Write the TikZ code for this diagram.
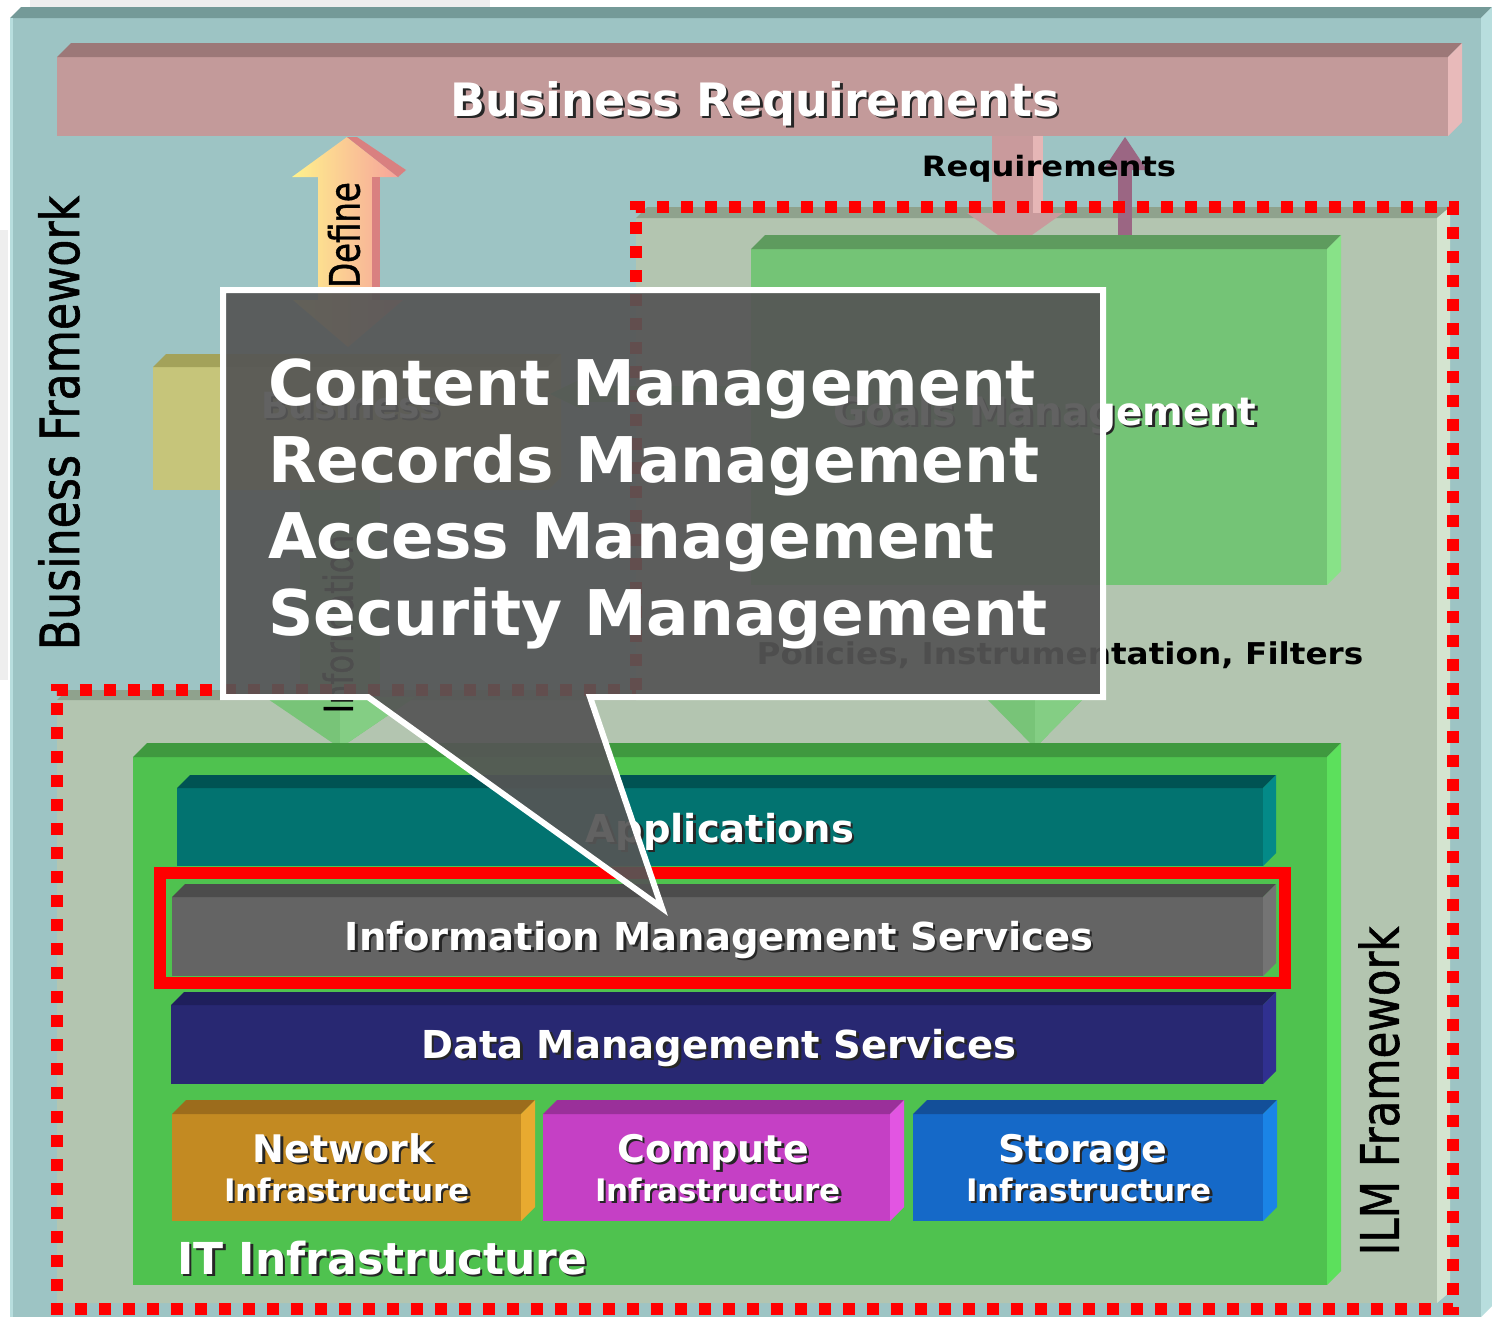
\documentclass[tikz,border=0pt]{standalone}
\usepackage{fontspec}
\setmainfont{DejaVu Sans}
\newfontfamily\heavysans{DejaVu Sans}[FakeBold=1.2]
\usepackage{graphicx}
\usetikzlibrary{calc}

\definecolor{tealbg}{HTML}{9DC4C4}
\definecolor{tealtop}{HTML}{749A98}
\definecolor{tealedge}{HTML}{B8DEDE}
\definecolor{brfront}{HTML}{C39A9A}
\definecolor{brtop}{HTML}{9C7878}
\definecolor{brside}{HTML}{E8BABA}
\definecolor{ilmfill}{HTML}{B3C5B0}
\definecolor{ilmtop}{HTML}{8FA28D}
\definecolor{ilmside}{HTML}{D4E4D0}
\definecolor{goalfront}{HTML}{74C476}
\definecolor{goaltop}{HTML}{5E9B5E}
\definecolor{goalside}{HTML}{88E288}
\definecolor{itfront}{HTML}{4FC24F}
\definecolor{ittop}{HTML}{3F993F}
\definecolor{itside}{HTML}{5CE05C}
\definecolor{appfront}{HTML}{027370}
\definecolor{apptop}{HTML}{005353}
\definecolor{appside}{HTML}{038A88}
\definecolor{imsfront}{HTML}{646464}
\definecolor{imstop}{HTML}{4C4C4C}
\definecolor{imsside}{HTML}{747474}
\definecolor{dmsfront}{HTML}{282872}
\definecolor{dmstop}{HTML}{1F1F5C}
\definecolor{dmsside}{HTML}{303090}
\definecolor{netfront}{HTML}{C38A22}
\definecolor{nettop}{HTML}{9C6C1C}
\definecolor{netside}{HTML}{E8AA30}
\definecolor{cmpfront}{HTML}{C540C5}
\definecolor{cmptop}{HTML}{9A309A}
\definecolor{cmpside}{HTML}{E255E2}
\definecolor{stofront}{HTML}{1569C8}
\definecolor{stotop}{HTML}{134F99}
\definecolor{stoside}{HTML}{1A84E6}
\definecolor{yelfront}{HTML}{C6C57A}
\definecolor{yeltop}{HTML}{A3A25A}
\definecolor{arrowgreen}{HTML}{78C478}
\definecolor{arrowgreenlt}{HTML}{84CE84}
\definecolor{reqpink}{HTML}{C99A9C}
\definecolor{reqpinklt}{HTML}{E6B6B6}
\definecolor{reqpurple}{HTML}{9B6683}
\definecolor{defyellow}{HTML}{FFF28C}
\definecolor{defpink}{HTML}{F6A09C}
\definecolor{defside}{HTML}{D98080}
\definecolor{calloutgray}{HTML}{555555}
\definecolor{paleback}{HTML}{EEEEEE}

% white lettering with a dark drop shadow
\newcommand\sdtext[2][2.5]{\makebox[0pt][l]{\hspace*{#1pt}\raisebox{-#1pt}{\color{black!85}#2}}#2}

% a bevelled slab: name, x1, y1, x2, y2, depth, front, top, side
\newcommand\slab[9]{%
  \node[inner sep=0pt, outer sep=0pt, fill=#7, minimum width={(#4-#2)*1pt},
        minimum height={(#5-#3)*1pt}, anchor=north west] (#1) at (#2,#3) {};
  \fill[#8] (#1.north west) -- ++(#6,-#6) -- ($(#1.north east)+(#6,-#6)$) -- (#1.north east) -- cycle;
  \fill[#9] (#1.north east) -- ++(#6,-#6) -- ($(#1.south east)+(#6,-#6)$) -- (#1.south east) -- cycle;
}

\tikzset{
  wlabel/.style={text=white, inner sep=0pt, font=\bfseries\fontsize{38.5}{42}\selectfont, anchor=base},
  blabel/.style={text=black, inner sep=0pt, anchor=base},
  reddots/.style={draw=red, line width=12pt, dash pattern=on 12pt off 12pt},
  calloutline/.style={text=white, inner sep=0pt, anchor=base west, font=\bfseries\fontsize{63}{70}\selectfont},
}

\begin{document}
\begin{tikzpicture}[x=1pt, y=-1pt]
\useasboundingbox (0,0) rectangle (1492,1317);
\fill[white] (0,0) rectangle (1492,1317);
\fill[paleback] (30,0) rectangle (490,8);
\fill[paleback] (0,230) rectangle (8,680);

% outer business frame
\slab{panel}{10}{18}{1481}{1317}{11}{tealbg}{tealtop}{tealedge}
\fill[tealedge] (10,18) rectangle (13,1317);

% business requirements bar
\slab{breq}{57}{57}{1448}{136}{14}{brfront}{brtop}{brside}
\node[wlabel, font=\bfseries\fontsize{46}{50}\selectfont] (breqtext) at (755,116) {\sdtext{Business Requirements}};

% define arrow (gradient, double headed)
\shade[left color=defyellow, right color=defpink]
  (318,300) -- (293,300) -- (348,347) -- (403,300) -- (372,300) -- (372,177)
  -- (398,177) -- (347,137) -- (292,177) -- (318,177) -- cycle;
\fill[defside] (372,177) rectangle (380,300);
\fill[defside] (347,137) -- (357,137) -- (406,170) -- (398,177) -- cycle;
\node[blabel, rotate=90, anchor=center, font=\heavysans\fontsize{42}{46}\selectfont] (define) at (344,235) {\scalebox{0.77}[1]{Define}};

% business box (left)
\slab{bizbox}{153}{367}{548}{490}{13}{yelfront}{yeltop}{yelfront}
\node[wlabel, font=\bfseries\fontsize{36}{40}\selectfont] (biztext) at (351,418) {\sdtext{Business}};
\fill[arrowgreen] (300,490) rectangle (380,697);

% ILM region
\fill[ilmfill] (636,218) -- (1437,218) -- (1437,1303) -- (57,1303) -- (57,700) -- (636,700) -- cycle;
\fill[ilmtop] (636,218) -- (647,207) -- (1450,207) -- (1437,218) -- cycle;
\fill[ilmtop] (57,700) -- (67,690) -- (636,690) -- (636,700) -- cycle;
\fill[ilmside] (1437,218) -- (1450,207) -- (1450,1292) -- (1437,1303) -- cycle;

% information arrow head and label
\fill[arrowgreen] (265,697) -- (415,697) -- (340,748) -- cycle;
\fill[arrowgreenlt] (340,697) -- (415,697) -- (340,748) -- cycle;
\node[blabel, rotate=90, anchor=center, font=\heavysans\fontsize{40}{44}\selectfont] (infotext) at (338,624) {\scalebox{0.77}[1]{Information}};

% requirements arrows
\fill[reqpink] (992,136) rectangle (1043,213);
\fill[reqpinklt] (1033,136) rectangle (1043,213);
\fill[reqpink] (967,213) -- (1063,213) -- (1015,247) -- cycle;
\fill[reqpurple] (1118,168) rectangle (1132,242);
\fill[reqpurple] (1103,170) -- (1147,170) -- (1125,137) -- cycle;
\node[blabel, font=\bfseries\fontsize{28}{32}\selectfont] (reqtext) at (1049,176) {\scalebox{1.15}[1]{Requirements}};

% goals management
\slab{goals}{751}{249}{1327}{585}{14}{goalfront}{goaltop}{goalside}
\node[wlabel, font=\bfseries\fontsize{39}{43}\selectfont] (goalstext) at (1045,425) {\sdtext{Goals Management}};
\fill[arrowgreen] (583,386) rectangle (751,402);
\fill[arrowgreen] (583,378) -- (583,410) -- (550,394) -- cycle;

% policies arrow head and label
\fill[arrowgreen] (985,697) -- (1085,697) -- (1035,748) -- cycle;
\fill[arrowgreenlt] (1035,697) -- (1085,697) -- (1035,748) -- cycle;
\node[blabel, font=\bfseries\fontsize{30}{34}\selectfont] (policies) at (1060,664) {\scalebox{1.09}[1]{Policies, Instrumentation, Filters}};

% IT infrastructure stack
\slab{itinfra}{133}{757}{1327}{1285}{14}{itfront}{ittop}{itside}
\slab{apps}{177}{788}{1263}{866}{13}{appfront}{apptop}{appside}
\node[wlabel] (appstext) at (720,842) {\sdtext{Applications}};
\slab{ims}{172}{897}{1263}{976}{13}{imsfront}{imstop}{imsside}
\node[wlabel] (imstext) at (719,950) {\sdtext{Information Management Services}};
\slab{dms}{171}{1005}{1263}{1084}{13}{dmsfront}{dmstop}{dmsside}
\node[wlabel] (dmstext) at (719,1058) {\sdtext{Data Management Services}};
\slab{net}{172}{1114}{521}{1221}{14}{netfront}{nettop}{netside}
\slab{cmp}{543}{1114}{890}{1221}{14}{cmpfront}{cmptop}{cmpside}
\slab{sto}{913}{1114}{1263}{1221}{14}{stofront}{stotop}{stoside}
\node[wlabel, font=\bfseries\fontsize{38}{42}\selectfont] (nettext) at (343,1162) {\sdtext{Network}};
\node[wlabel, font=\bfseries\fontsize{31}{34}\selectfont] (netsub) at (347,1201) {\sdtext{Infrastructure}};
\node[wlabel, font=\bfseries\fontsize{38}{42}\selectfont] (cmptext) at (713,1162) {\sdtext{Compute}};
\node[wlabel, font=\bfseries\fontsize{31}{34}\selectfont] (cmpsub) at (718,1201) {\sdtext{Infrastructure}};
\node[wlabel, font=\bfseries\fontsize{38}{42}\selectfont] (stotext) at (1083,1162) {\sdtext{Storage}};
\node[wlabel, font=\bfseries\fontsize{31}{34}\selectfont] (stosub) at (1089,1201) {\sdtext{Infrastructure}};
\node[wlabel, anchor=base west, font=\bfseries\fontsize{44}{48}\selectfont] (ittext) at (177,1274) {\sdtext{IT Infrastructure}};

% frame titles
\node[blabel, rotate=90, anchor=center, font=\heavysans\fontsize{54}{58}\selectfont] (bframe) at (59,423) {\scalebox{0.82}[1]{Business Framework}};
\node[blabel, rotate=90, anchor=center, font=\heavysans\fontsize{53}{57}\selectfont] (ilmframe) at (1379,1091) {\scalebox{0.82}[1]{ILM Framework}};

% ILM boundary and highlight
\draw[reddots] (636,690) -- (636,207) -- (1453,207) -- (1453,1309) -- (57,1309) -- (57,690) -- cycle;
\draw[red, line width=12pt] (160,873) rectangle (1285,983);

% callout
\path[fill=calloutgray, fill opacity=0.92, draw=white, line width=6pt, line join=miter]
  (223,290) -- (1103,290) -- (1103,697) -- (590,697) -- (662,908) -- (368,697) -- (223,697) -- cycle;
\node[calloutline] (c1) at (268,405) {Content Management};
\node[calloutline] (c2) at (268,482) {Records Management};
\node[calloutline] (c3) at (268,558) {Access Management};
\node[calloutline] (c4) at (268,635) {Security Management};
\end{tikzpicture}
\end{document}
